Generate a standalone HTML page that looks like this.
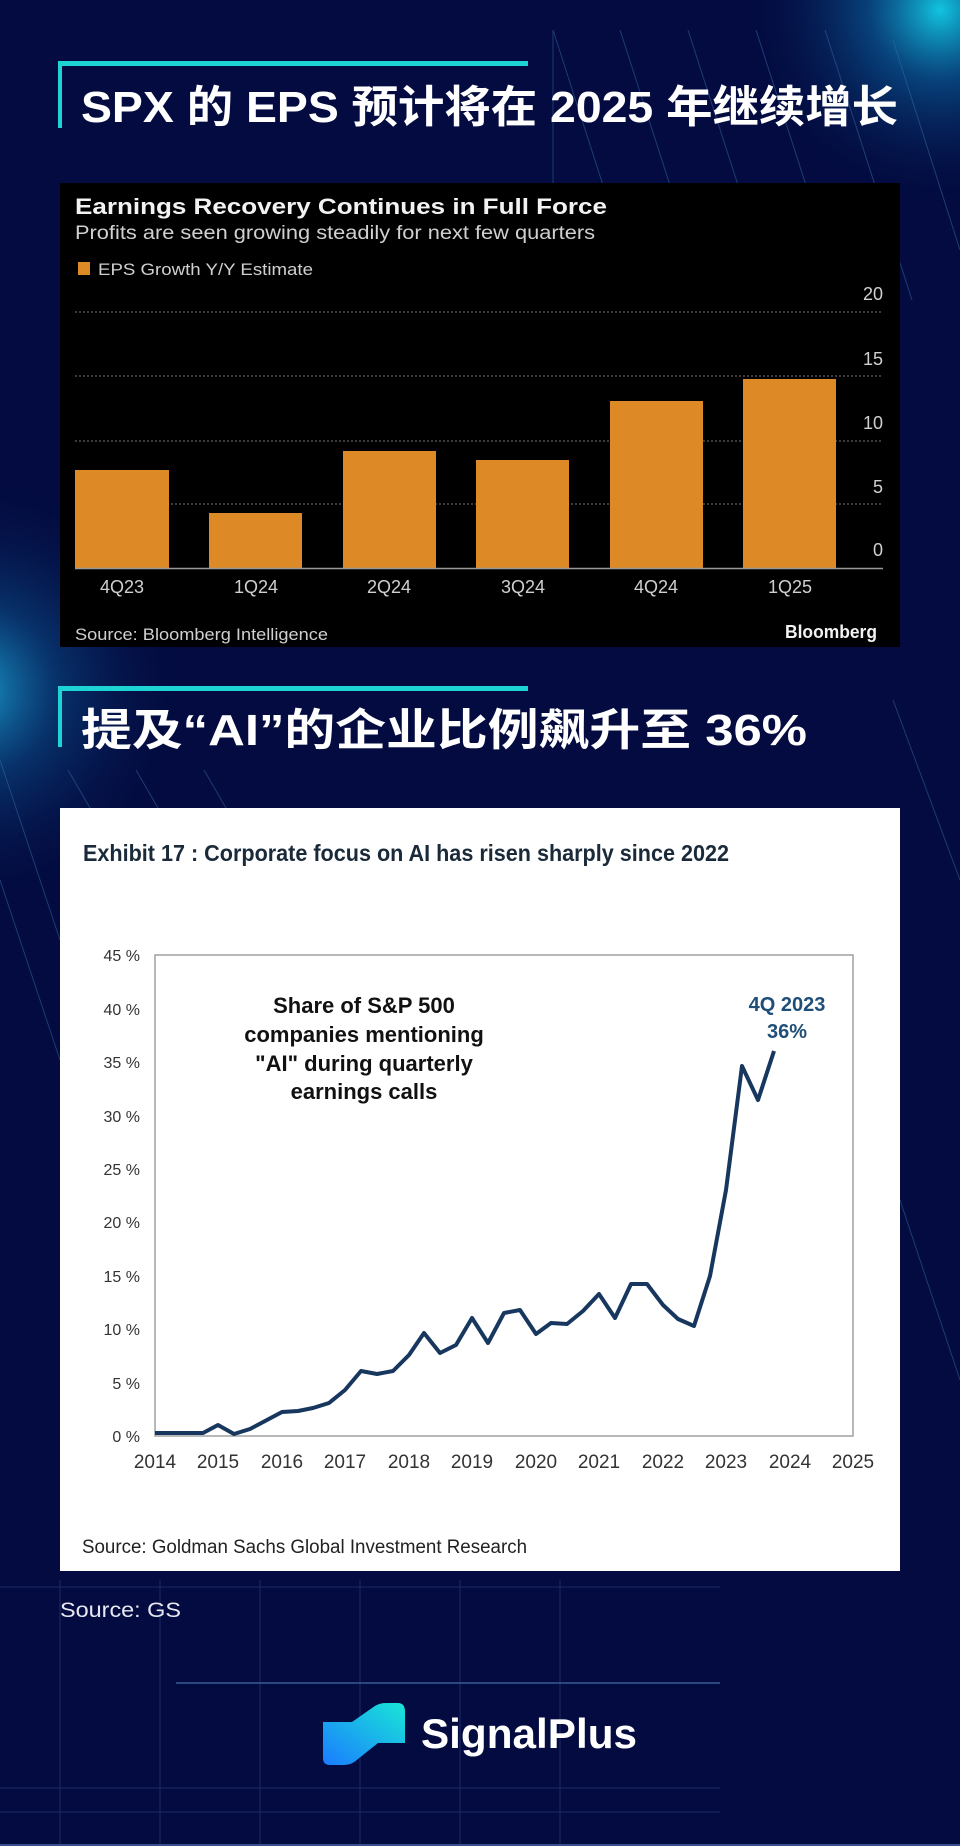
<!DOCTYPE html>
<html><head><meta charset="utf-8"><style>
html,body{margin:0;padding:0;background:#030b40;}
svg{display:block}
</style></head><body>
<svg width="960" height="1846" viewBox="0 0 960 1846" xmlns="http://www.w3.org/2000/svg">
<defs>
<radialGradient id="g1" cx="940" cy="10" r="200" gradientUnits="userSpaceOnUse">
<stop offset="0" stop-color="#12c4e0"/><stop offset="0.35" stop-color="#0a5a95" stop-opacity="0.7"/><stop offset="1" stop-color="#030b40" stop-opacity="0"/></radialGradient>
<radialGradient id="g2" cx="-30" cy="690" r="220" gradientUnits="userSpaceOnUse">
<stop offset="0" stop-color="#1aa0d0"/><stop offset="0.4" stop-color="#0b4a85" stop-opacity="0.6"/><stop offset="1" stop-color="#030b40" stop-opacity="0"/></radialGradient>
<linearGradient id="lg" x1="0" y1="1" x2="1" y2="0"><stop offset="0" stop-color="#1a7cff"/><stop offset="1" stop-color="#19e6d6"/></linearGradient>
</defs>
<rect width="960" height="1846" fill="#030b40"/>
<rect width="960" height="1846" fill="url(#g1)"/>
<rect width="960" height="1846" fill="url(#g2)"/>
<g stroke="#3a6aa8" stroke-width="1" opacity="0.5" fill="none">
<line x1="553" y1="30" x2="640" y2="300"/><line x1="620" y1="30" x2="707" y2="300"/>
<line x1="688" y1="30" x2="775" y2="300"/><line x1="756" y1="30" x2="843" y2="300"/>
<line x1="825" y1="30" x2="912" y2="300"/><line x1="893" y1="40" x2="960" y2="250"/>
<line x1="553" y1="30" x2="553" y2="260"/><line x1="893" y1="360" x2="893" y2="640"/>
<line x1="893" y1="700" x2="960" y2="880"/><line x1="0" y1="760" x2="60" y2="940"/>
<line x1="0" y1="880" x2="60" y2="1060"/><line x1="68" y1="770" x2="90" y2="808"/><line x1="136" y1="770" x2="158" y2="808"/><line x1="204" y1="770" x2="226" y2="808"/>
<line x1="900" y1="1200" x2="960" y2="1380"/>
</g>
<g stroke="#1c2a66" stroke-width="1">
<line x1="60" y1="1580" x2="60" y2="1846"/><line x1="160" y1="1580" x2="160" y2="1846"/><line x1="260" y1="1580" x2="260" y2="1846"/>
<line x1="360" y1="1580" x2="360" y2="1846"/><line x1="460" y1="1580" x2="460" y2="1846"/><line x1="560" y1="1580" x2="560" y2="1846"/>
<line x1="0" y1="1587" x2="720" y2="1587"/><line x1="0" y1="1788" x2="720" y2="1788"/><line x1="0" y1="1812" x2="720" y2="1812"/>
</g>
<line x1="0" y1="1845" x2="960" y2="1845" stroke="#3a4f8a" stroke-width="2"/>

<!-- Title 1 -->
<rect x="58" y="61" width="470" height="5" fill="#1ed3d3"/>
<rect x="58" y="61" width="4" height="67" fill="#1ed3d3"/>
<text x="81" y="122" font-family="Liberation Sans, Noto Sans CJK SC, sans-serif" font-weight="bold" font-size="44" fill="#fff" textLength="817" lengthAdjust="spacingAndGlyphs">SPX 的 EPS 预计将在 2025 年继续增长</text>

<!-- Bloomberg chart -->
<rect x="60" y="183" width="840" height="464" fill="#000"/>
<g font-family="Liberation Sans Narrow, Liberation Sans, sans-serif">
<text x="75" y="214" font-size="22" font-weight="bold" fill="#f2f2f2" textLength="532" lengthAdjust="spacingAndGlyphs">Earnings Recovery Continues in Full Force</text>
<text x="75" y="239" font-size="19" fill="#d0d0d0" textLength="520" lengthAdjust="spacingAndGlyphs">Profits are seen growing steadily for next few quarters</text>
<rect x="78" y="262" width="12" height="13" fill="#dd8a26"/>
<text x="98" y="275" font-size="17" fill="#d0d0d0" textLength="215" lengthAdjust="spacingAndGlyphs">EPS Growth Y/Y Estimate</text>
<g stroke="#777" stroke-width="1" stroke-dasharray="2,2">
<line x1="75" y1="312" x2="883" y2="312"/><line x1="75" y1="376" x2="883" y2="376"/>
<line x1="75" y1="441" x2="883" y2="441"/><line x1="75" y1="504" x2="883" y2="504"/></g>
<g font-size="18" fill="#d0d0d0" text-anchor="end">
<text x="883" y="300">20</text><text x="883" y="365">15</text><text x="883" y="429">10</text><text x="883" y="493">5</text><text x="883" y="556">0</text></g>
<g fill="#dd8a26">
<rect x="75" y="470" width="94" height="98"/><rect x="209" y="513" width="93" height="55"/>
<rect x="343" y="451" width="93" height="117"/><rect x="476" y="460" width="93" height="108"/>
<rect x="610" y="401" width="93" height="167"/><rect x="743" y="379" width="93" height="189"/></g>
<line x1="75" y1="568.5" x2="883" y2="568.5" stroke="#999" stroke-width="1.5"/>
<g font-size="18" fill="#d0d0d0" text-anchor="middle">
<text x="122" y="593">4Q23</text><text x="256" y="593">1Q24</text><text x="389" y="593">2Q24</text>
<text x="523" y="593">3Q24</text><text x="656" y="593">4Q24</text><text x="790" y="593">1Q25</text></g>
<text x="75" y="640" font-size="17" fill="#d0d0d0" textLength="253" lengthAdjust="spacingAndGlyphs">Source: Bloomberg Intelligence</text>
<text x="877" y="638" font-size="18" font-weight="bold" fill="#f2f2f2" text-anchor="end" textLength="92" lengthAdjust="spacingAndGlyphs">Bloomberg</text>
</g>

<!-- Title 2 -->
<rect x="58" y="686" width="470" height="5" fill="#1ed3d3"/>
<rect x="58" y="686" width="4" height="61" fill="#1ed3d3"/>
<text x="81" y="745" font-family="Liberation Sans, Noto Sans CJK SC, sans-serif" font-weight="bold" font-size="44" fill="#fff" textLength="726" lengthAdjust="spacingAndGlyphs">提及“AI”的企业比例飙升至 36%</text>

<!-- GS chart -->
<rect x="60" y="808" width="840" height="763" fill="#fff"/>
<text x="83" y="861" font-family="Liberation Sans Narrow, Liberation Sans, sans-serif" font-weight="bold" font-size="23" fill="#1a2a3a" textLength="646" lengthAdjust="spacingAndGlyphs">Exhibit 17 : Corporate focus on AI has risen sharply since 2022</text>
<rect x="155" y="955" width="698" height="481" fill="none" stroke="#a0a0a0" stroke-width="1.5"/>
<g font-family="Liberation Sans, sans-serif" font-size="16" fill="#333" text-anchor="end">
<text x="140" y="961">45 %</text><text x="140" y="1015">40 %</text><text x="140" y="1068">35 %</text>
<text x="140" y="1122">30 %</text><text x="140" y="1175">25 %</text><text x="140" y="1228">20 %</text>
<text x="140" y="1282">15 %</text><text x="140" y="1335">10 %</text><text x="140" y="1389">5 %</text><text x="140" y="1442">0 %</text></g>
<g font-family="Liberation Sans, sans-serif" font-size="19" fill="#333" text-anchor="middle">
<text x="155" y="1468">2014</text><text x="218" y="1468">2015</text><text x="282" y="1468">2016</text>
<text x="345" y="1468">2017</text><text x="409" y="1468">2018</text><text x="472" y="1468">2019</text>
<text x="536" y="1468">2020</text><text x="599" y="1468">2021</text><text x="663" y="1468">2022</text>
<text x="726" y="1468">2023</text><text x="790" y="1468">2024</text><text x="853" y="1468">2025</text></g>
<polyline fill="none" stroke="#17375e" stroke-width="4" stroke-linejoin="round" points="155,1433 203,1433 218,1425 234,1434 250,1429 282,1412 298,1411 313,1408 329,1403 345,1390 361,1371 377,1374 393,1371 409,1355 424,1333 440,1353 456,1345 472,1318 488,1343 504,1313 520,1310 536,1334 551,1323 567,1324 583,1311 599,1294 615,1318 631,1284 647,1284 663,1305 678,1319 694,1326 710,1276 726,1190 742,1066 758,1100 774,1051"/>
<g font-family="Liberation Sans, sans-serif" font-weight="bold" font-size="22" fill="#111" text-anchor="middle">
<text x="364" y="1013">Share of S&amp;P 500</text><text x="364" y="1042">companies mentioning</text>
<text x="364" y="1071">"AI" during quarterly</text><text x="364" y="1099">earnings calls</text></g>
<g font-family="Liberation Sans, sans-serif" font-weight="bold" font-size="20" fill="#1f4e79" text-anchor="middle">
<text x="787" y="1011">4Q 2023</text><text x="787" y="1038">36%</text></g>
<text x="82" y="1553" font-family="Liberation Sans Narrow, Liberation Sans, sans-serif" font-size="19" fill="#222" textLength="445" lengthAdjust="spacingAndGlyphs">Source: Goldman Sachs Global Investment Research</text>

<text x="60" y="1617" font-family="Liberation Sans, sans-serif" font-size="21" fill="#e8e8f0" textLength="121" lengthAdjust="spacingAndGlyphs">Source: GS</text>
<line x1="176" y1="1683" x2="720" y2="1683" stroke="#3a5a94" stroke-width="1.5"/>

<!-- Logo -->
<path d="M323,1722 L352,1722 L372,1708 Q378,1703 386,1703 L398,1703 Q405,1703 405,1712 L405,1743 L378,1743 L358,1759 Q352,1765 344,1765 L330,1765 Q323,1765 323,1758 Z" fill="url(#lg)"/>
<text x="421" y="1748" font-family="Liberation Sans, sans-serif" font-weight="bold" font-size="42" fill="#fff" textLength="216" lengthAdjust="spacingAndGlyphs">SignalPlus</text>
</svg>
</body></html>
